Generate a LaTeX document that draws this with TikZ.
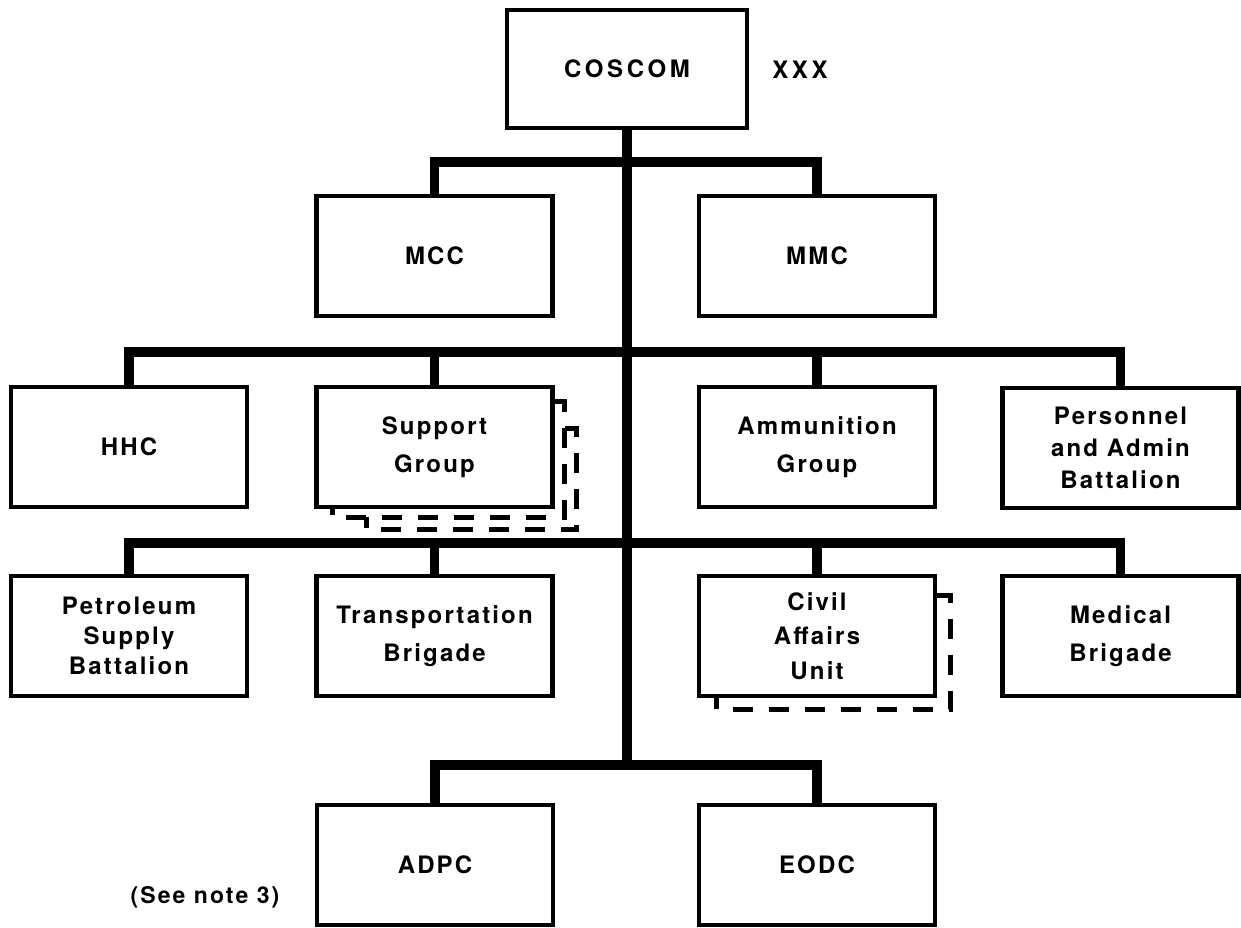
\documentclass[tikz,border=0pt]{standalone}
\usepackage{fontspec}
\usetikzlibrary{calc}
\setmainfont{TeX Gyre Heros}[LetterSpace=9]
\begin{document}
\begin{tikzpicture}[x=1pt,y=-1pt,
  box/.style={draw=black,line width=4.5pt,rectangle,minimum width=236pt,minimum height=120pt,inner sep=0pt,align=center,font=\bfseries\fontsize{24}{38}\selectfont},
  three/.style={font=\bfseries\fontsize{24}{#1}\selectfont},
  wide/.style={font=\bfseries\fontsize{24}{38}\selectfont\addfontfeatures{LetterSpace=15}},
  bar/.style={line width=9.5pt,line join=miter,line cap=butt},
  shadow/.style={line width=5pt,dash pattern=on 20pt off 16pt,line join=miter},
  lbl/.style={inner sep=0pt}]
\useasboundingbox (0,0) rectangle (1241,928);
% boxes
\node[box,wide,minimum width=240pt,minimum height=118pt] (coscom) at (627,69) {COSCOM};
\node[lbl,wide] (xxx) at (800,70) {XXX};
\node[box] (mcc) at (434.5,256) {MCC};
\node[box] (mmc) at (817,256) {MMC};
\node[box] (hhc) at (129,447) {HHC};
\node[box] (supp) at (434.5,447) {Support\\Group};
\node[box] (ammo) at (817,447) {Ammunition\\Group};
\node[box,three=32] (pers) at (1120.5,448) {Personnel\\and Admin\\Battalion};
\node[box,three=30] (petr) at (129,636) {Petroleum\\Supply\\Battalion};
\node[box] (trans) at (434.5,636) {Transportation\\Brigade};
\node[box,three=34.5] (civil) at (817,636) {Civil\\Affairs\\Unit};
\node[box] (med) at (1120.5,636) {Medical\\Brigade};
\node[box] (adpc) at (435,865) {ADPC};
\node[box] (eodc) at (817,865) {EODC};
\node[lbl,font=\bfseries\fontsize{23}{26}\selectfont] (note) at (205,897) {(See note 3)};
% junctions on the trunk
\coordinate (j1) at (627,162);
\coordinate (j2) at (627,352);
\coordinate (j3) at (627,543);
\coordinate (j4) at (627,765);
% connectors
\draw[bar] (coscom.south) -- (j4);
\draw[bar] (mcc.north) |- (j1) -| (mmc.north);
\draw[bar] (hhc.north) |- (j2) -| (pers.north);
\draw[bar] (supp.north) -- (supp.north |- j2);
\draw[bar] (ammo.north) -- (ammo.north |- j2);
\draw[bar] (petr.north) |- (j3) -| (med.north);
\draw[bar] (trans.north) -- (trans.north |- j3);
\draw[bar] (civil.north) -- (civil.north |- j3);
\draw[bar] (adpc.north) |- (j4) -| (eodc.north);
% shadows (dashed)
\draw[shadow] ($(supp.north east)+(0,17)$) -- ++(10,0) |- ($(supp.south west)+(18,8)$) -- ($(supp.south west)+(18,0)$);
\draw[shadow] ($(supp.north east)+(10,44)$) -- ++(12,0) |- ($(supp.south west)+(52,20)$) -- ($(supp.south west)+(52,8)$);
\draw[shadow] ($(civil.north east)+(0,22)$) -- ++(13,0) |- ($(civil.south west)+(20,11)$) -- ($(civil.south west)+(20,0)$);
\end{tikzpicture}
\end{document}
